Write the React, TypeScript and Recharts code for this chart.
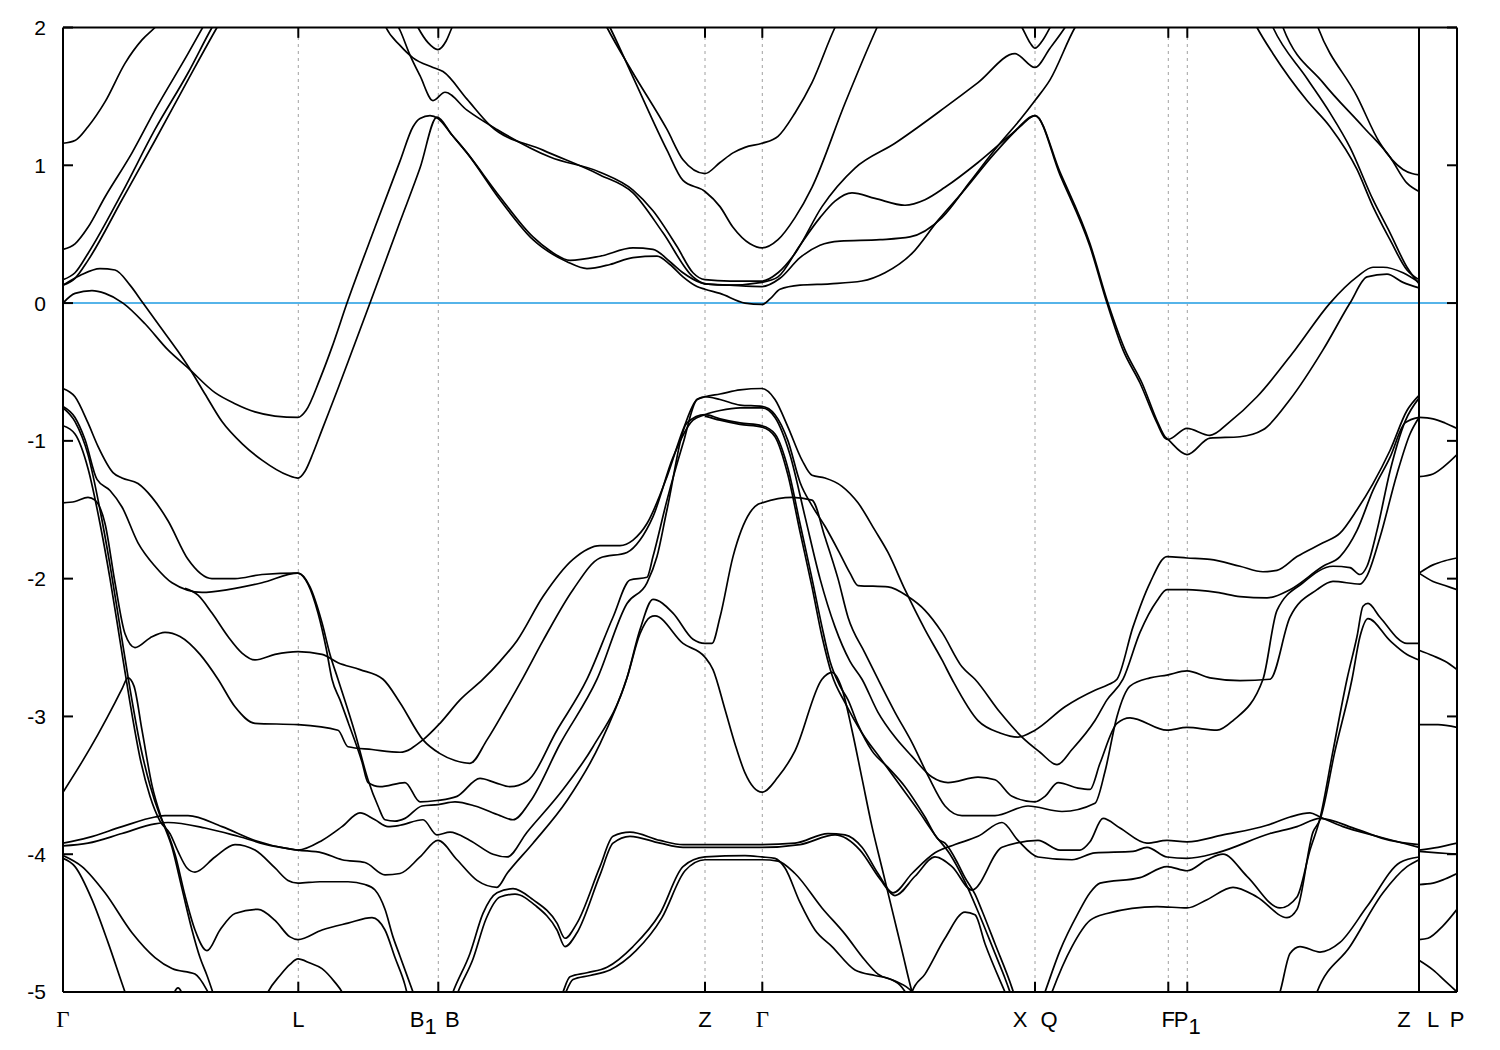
import React from 'react';
import { LineChart, Line, XAxis, YAxis, ReferenceLine } from 'recharts';

type P = [number, number];

// high-symmetry points along the k-path and their labels
const kTicks = [0, 2.353, 3.753, 6.42, 6.993, 9.72, 11.053, 11.243, 13.56, 13.94];
const kLabels = ['Γ', 'L', 'B_1|B', 'Z', 'Γ', 'X|Q', 'F', 'P_1', 'Z|L', 'P'];
const dashedAt = [2.353, 3.753, 6.42, 6.993, 9.72, 11.053, 11.243];
const eTicks = [-5, -4, -3, -2, -1, 0, 1, 2];

// ---- conduction bands ----
const bandA: P[] = [[0,1.16],[0.12,1.18],[0.25,1.28],[0.42,1.46],[0.62,1.74],[0.79,1.91],[0.92,2.0],[1.07,2.12]];
const bandB: P[] = [[0,0.39],[0.12,0.43],[0.25,0.55],[0.42,0.77],[0.69,1.09],[0.92,1.40],[1.25,1.81],[1.42,2.03]];
const bandC: P[] = [[0,0.17],[0.12,0.22],[0.25,0.36],[0.59,0.80],[0.92,1.26],[1.25,1.67],[1.49,2.0],[1.57,2.1]];
const bandD: P[] = [[0,0.13],[0.12,0.18],[0.25,0.31],[0.59,0.75],[0.92,1.18],[1.25,1.62],[1.54,2.0],[1.62,2.1]];
const bandE: P[] = [[0,0.13],[0.17,0.2],[0.37,0.25],[0.52,0.24],[0.67,0.13],[0.8,0],[0.97,-0.17],[1.15,-0.35],[1.27,-0.48],[1.42,-0.66],[1.59,-0.86],[1.79,-1.02],[1.99,-1.14],[2.25,-1.25],[2.35,-1.27],[2.42,-1.22],[2.5,-1.09],[2.59,-0.92],[2.75,-0.62],[2.9,-0.33],[3.07,0],[3.37,0.59],[3.57,0.98],[3.74,1.35],[3.89,1.22],[4.04,1.09],[4.37,0.75],[4.7,0.46],[5.04,0.30],[5.24,0.25],[5.47,0.28],[5.7,0.33],[5.94,0.34],[6.07,0.28],[6.2,0.19],[6.34,0.12],[6.42,0.10],[6.57,0.07],[6.82,0.0],[6.99,-0.01],[7.07,0.03],[7.17,0.10],[7.37,0.13],[7.67,0.14],[7.99,0.16],[8.22,0.22],[8.49,0.36],[8.75,0.60],[8.99,0.80],[9.32,1.09],[9.57,1.28],[9.72,1.36],[9.97,0.95],[10.27,0.43],[10.45,0.0],[10.62,-0.34],[10.79,-0.58],[10.95,-0.87],[11.02,-0.97],[11.05,-0.99],[11.24,-1.10],[11.47,-0.98],[11.77,-0.97],[12.0,-0.92],[12.27,-0.70],[12.6,-0.34],[12.87,0.0],[13.04,0.19],[13.24,0.21],[13.4,0.15],[13.56,0.11]];
const bandF: P[] = [[0,0.0],[0.12,0.07],[0.29,0.09],[0.42,0.07],[0.6,0.0],[0.82,-0.15],[1.05,-0.34],[1.25,-0.47],[1.52,-0.65],[1.72,-0.73],[1.92,-0.79],[2.12,-0.82],[2.35,-0.83],[2.43,-0.78],[2.57,-0.55],[2.69,-0.32],[2.84,0.0],[3.12,0.55],[3.37,1.03],[3.5,1.28],[3.57,1.34],[3.67,1.36],[3.75,1.34],[3.89,1.22],[4.04,1.09],[4.37,0.77],[4.7,0.48],[4.87,0.38],[5.07,0.31],[5.37,0.34],[5.7,0.40],[5.9,0.39],[6.07,0.30],[6.2,0.22],[6.37,0.15],[6.42,0.14],[6.67,0.13],[6.99,0.15],[7.15,0.19],[7.37,0.42],[7.57,0.62],[7.72,0.74],[7.89,0.80],[8.12,0.76],[8.42,0.71],[8.62,0.75],[8.82,0.84],[9.15,1.02],[9.49,1.23],[9.72,1.36],[9.97,0.93],[10.27,0.41],[10.44,0.0],[10.6,-0.34],[10.77,-0.58],[10.94,-0.87],[11.02,-0.98],[11.05,-0.99],[11.24,-0.91],[11.47,-0.96],[11.67,-0.86],[11.94,-0.68],[12.32,-0.34],[12.67,0.0],[12.94,0.19],[13.1,0.26],[13.2,0.26],[13.4,0.22],[13.56,0.15]];
const bandM1: P[] = [[3.32,2.05],[3.37,1.98],[3.47,1.8],[3.57,1.65],[3.7,1.47],[3.82,1.53],[4.04,1.40],[4.34,1.26],[4.87,1.06],[5.37,0.95],[5.7,0.82],[5.9,0.67],[6.14,0.41],[6.3,0.22],[6.42,0.17],[6.67,0.16],[6.99,0.16],[7.15,0.22],[7.32,0.36],[7.59,0.70],[7.92,0.98],[8.32,1.16],[8.82,1.42],[9.15,1.60],[9.52,1.81],[9.72,1.71],[9.87,1.85],[10.02,2.0],[10.09,2.08]];
const bandM2: P[] = [[3.2,2.05],[3.23,2.0],[3.37,1.87],[3.5,1.78],[3.7,1.71],[3.8,1.68],[4.04,1.48],[4.27,1.29],[4.8,1.11],[5.37,0.93],[5.7,0.80],[6.0,0.51],[6.3,0.19],[6.42,0.14],[6.67,0.13],[6.99,0.12],[7.17,0.18],[7.37,0.33],[7.57,0.42],[7.77,0.45],[8.17,0.46],[8.47,0.48],[8.79,0.62],[9.07,0.88],[9.37,1.16],[9.57,1.33],[9.72,1.47],[9.87,1.62],[10.12,2.0],[10.17,2.06]];
const bandVB: P[] = [[3.47,2.12],[3.55,2.0],[3.65,1.89],[3.75,1.84],[3.83,1.90],[3.89,2.0],[3.97,2.12]];
const bandVX: P[] = [[9.49,2.12],[9.59,2.0],[9.67,1.89],[9.72,1.85],[9.79,1.90],[9.87,2.0],[9.95,2.12]];
const bandT1: P[] = [[5.37,2.1],[5.44,2.0],[5.7,1.67],[6.04,1.26],[6.2,1.04],[6.42,0.94],[6.57,1.02],[6.7,1.09],[6.82,1.13],[6.99,1.16],[7.15,1.21],[7.32,1.38],[7.49,1.60],[7.72,2.0],[7.79,2.1]];
const bandT2: P[] = [[5.4,2.1],[5.47,2.0],[5.7,1.64],[6.04,1.11],[6.2,0.89],[6.42,0.81],[6.57,0.70],[6.7,0.55],[6.87,0.43],[6.99,0.40],[7.15,0.46],[7.32,0.62],[7.49,0.84],[7.82,1.45],[8.14,2.0],[8.19,2.08]];
const bandK1: P[] = [[11.87,2.1],[11.94,2.0],[12.1,1.81],[12.44,1.47],[12.67,1.28],[12.94,0.97],[13.1,0.70],[13.27,0.46],[13.44,0.24],[13.56,0.17]];
const bandK2: P[] = [[12.04,2.1],[12.1,2.0],[12.44,1.63],[12.67,1.38],[12.87,1.13],[13.1,0.75],[13.27,0.51],[13.44,0.26],[13.56,0.14]];
const bandK3: P[] = [[12.15,2.1],[12.2,2.0],[12.6,1.60],[13.0,1.28],[13.27,1.06],[13.44,0.87],[13.56,0.81]];
const bandK4: P[] = [[12.5,2.1],[12.55,2.0],[12.94,1.50],[13.17,1.16],[13.4,0.97],[13.49,0.94],[13.56,0.93]];

// ---- valence bands ----
const bandV1: P[] = [[0,-0.62],[0.12,-0.68],[0.25,-0.87],[0.35,-1.04],[0.5,-1.23],[0.59,-1.27],[0.75,-1.31],[0.89,-1.41],[1.05,-1.58],[1.25,-1.86],[1.49,-2.0],[1.72,-2.0],[1.99,-1.97],[2.35,-1.96],[2.45,-2.04],[2.55,-2.25],[2.63,-2.5],[2.69,-2.73],[2.77,-2.88],[2.85,-3.04],[2.99,-3.33],[3.05,-3.48],[3.17,-3.51],[3.42,-3.48],[3.57,-3.62],[3.74,-3.61],[3.94,-3.58],[4.17,-3.45],[4.32,-3.48],[4.47,-3.51],[4.64,-3.47],[4.94,-3.10],[5.24,-2.73],[5.5,-2.28],[5.67,-2.01],[5.84,-1.99],[5.9,-1.84],[6.04,-1.43],[6.2,-1.02],[6.34,-0.70],[6.42,-0.68],[6.57,-0.70],[6.77,-0.74],[6.99,-0.75],[7.12,-0.81],[7.25,-1.0],[7.37,-1.3],[7.49,-1.47],[7.62,-1.62],[7.77,-1.82],[7.87,-1.96],[7.95,-2.05],[8.25,-2.06],[8.45,-2.13],[8.62,-2.23],[8.79,-2.39],[8.99,-2.64],[9.12,-2.73],[9.37,-2.97],[9.59,-3.15],[9.77,-3.26],[9.94,-3.35],[10.09,-3.24],[10.32,-3.03],[10.44,-2.88],[10.6,-2.73],[10.77,-2.39],[10.94,-2.16],[11.04,-2.08],[11.24,-2.08],[11.54,-2.10],[11.77,-2.13],[12.04,-2.14],[12.27,-2.08],[12.6,-1.91],[12.77,-1.84],[12.94,-1.65],[13.1,-1.36],[13.27,-1.12],[13.42,-0.87],[13.56,-0.83]];
const bandV2: P[] = [[0,-0.75],[0.12,-0.83],[0.22,-0.99],[0.34,-1.28],[0.47,-1.36],[0.59,-1.48],[0.75,-1.74],[0.92,-1.91],[1.09,-2.03],[1.39,-2.10],[1.65,-2.08],[1.99,-2.03],[2.35,-1.96],[2.47,-2.06],[2.59,-2.32],[2.67,-2.55],[2.75,-2.73],[2.92,-3.12],[3.05,-3.46],[3.15,-3.65],[3.22,-3.75],[3.32,-3.76],[3.42,-3.74],[3.59,-3.65],[3.75,-3.64],[3.92,-3.62],[4.12,-3.65],[4.37,-3.72],[4.5,-3.75],[4.67,-3.62],[4.97,-3.2],[5.34,-2.73],[5.64,-2.18],[5.84,-2.03],[5.94,-1.84],[6.04,-1.50],[6.24,-0.87],[6.42,-0.81],[6.57,-0.84],[6.77,-0.87],[6.99,-0.89],[7.12,-0.95],[7.25,-1.2],[7.37,-1.6],[7.49,-2.0],[7.59,-2.35],[7.67,-2.6],[7.77,-2.78],[7.85,-2.88],[7.95,-3.06],[8.09,-3.25],[8.25,-3.37],[8.42,-3.51],[8.62,-3.73],[8.75,-3.89],[8.82,-3.92],[8.95,-4.07],[9.02,-4.17],[9.12,-4.29],[9.19,-4.41],[9.32,-4.65],[9.49,-4.97],[9.53,-5.06]];
const bandL1: P[] = [[0,-1.45],[0.12,-1.44],[0.25,-1.41],[0.32,-1.43],[0.42,-1.60],[0.52,-2.03],[0.62,-2.40],[0.72,-2.50],[0.87,-2.43],[1.02,-2.39],[1.17,-2.42],[1.37,-2.55],[1.55,-2.73],[1.72,-2.93],[1.92,-3.05],[2.35,-3.06],[2.75,-3.10],[2.85,-3.22],[3.09,-3.24],[3.37,-3.26],[3.6,-3.17],[3.77,-3.05],[3.97,-2.88],[4.2,-2.73],[4.37,-2.60],[4.54,-2.45],[4.8,-2.13],[5.1,-1.86],[5.37,-1.76],[5.57,-1.76],[5.7,-1.72],[5.84,-1.60],[6.04,-1.26],[6.2,-0.92],[6.34,-0.70],[6.42,-0.68],[6.57,-0.66],[6.77,-0.63],[6.99,-0.62],[7.12,-0.70],[7.25,-0.90],[7.39,-1.14],[7.49,-1.25],[7.62,-1.27],[7.79,-1.33],[7.95,-1.45],[8.12,-1.65],[8.25,-1.81],[8.42,-2.08],[8.62,-2.37],[8.79,-2.59],[8.89,-2.73],[9.15,-3.03],[9.37,-3.12],[9.55,-3.15],[9.72,-3.10],[10.02,-2.93],[10.32,-2.81],[10.45,-2.77],[10.54,-2.73],[10.7,-2.35],[10.87,-2.03],[11.04,-1.84],[11.24,-1.85],[11.47,-1.86],[11.77,-1.91],[12.0,-1.95],[12.14,-1.94],[12.34,-1.84],[12.6,-1.74],[12.77,-1.67],[12.94,-1.50],[13.1,-1.31],[13.27,-1.07],[13.44,-0.78],[13.56,-0.67]];
const bandL2: P[] = [[1.22,-2.07],[1.35,-2.12],[1.49,-2.25],[1.65,-2.42],[1.79,-2.54],[1.92,-2.59],[2.12,-2.55],[2.35,-2.53],[2.59,-2.55],[2.75,-2.61],[2.97,-2.66],[3.2,-2.73],[3.37,-2.90],[3.6,-3.17],[3.77,-3.27],[3.92,-3.32],[4.07,-3.34],[4.24,-3.17],[4.42,-2.95],[4.6,-2.72],[4.8,-2.45],[5.1,-2.08],[5.37,-1.85],[5.64,-1.81],[5.77,-1.72],[5.9,-1.55],[6.1,-1.12],[6.3,-0.85],[6.42,-0.81],[6.57,-0.78],[6.77,-0.76],[6.99,-0.76],[7.12,-0.83],[7.27,-1.1],[7.42,-1.55],[7.57,-2.0],[7.72,-2.35],[7.87,-2.6],[7.99,-2.73],[8.15,-2.97],[8.32,-3.15],[8.49,-3.29],[8.69,-3.44],[8.85,-3.48],[9.15,-3.44],[9.32,-3.46],[9.49,-3.58],[9.72,-3.62],[9.82,-3.58],[9.95,-3.48],[10.15,-3.52],[10.27,-3.53],[10.37,-3.34],[10.54,-3.05],[10.67,-3.01],[11.04,-3.10],[11.24,-3.08],[11.54,-3.10],[11.7,-3.03],[12.0,-2.73],[12.14,-2.23],[12.4,-2.03],[12.7,-1.91],[12.87,-1.92],[12.97,-1.97],[13.04,-1.91],[13.14,-1.65],[13.27,-1.22],[13.42,-0.86],[13.56,-0.69]];
const bandU1: P[] = [[0,-3.92],[0.25,-3.88],[0.59,-3.80],[0.92,-3.73],[1.02,-3.72],[1.25,-3.72],[1.59,-3.80],[1.92,-3.90],[2.25,-3.96],[2.35,-3.97],[2.59,-3.90],[2.79,-3.80],[2.97,-3.70],[3.12,-3.75],[3.25,-3.80],[3.37,-3.79],[3.6,-3.75],[3.74,-3.86],[3.87,-3.84],[4.07,-3.90],[4.3,-4.00],[4.44,-4.02],[4.64,-3.84],[5.0,-3.53],[5.3,-3.22],[5.64,-2.72],[5.77,-2.37],[5.9,-2.15],[6.1,-2.25],[6.3,-2.44],[6.42,-2.47],[6.49,-2.47],[6.57,-2.28],[6.7,-1.84],[6.87,-1.52],[6.95,-1.46],[6.99,-1.45],[7.29,-1.41],[7.49,-1.43],[7.62,-1.70],[7.75,-2.0],[7.85,-2.28],[8.02,-2.54],[8.15,-2.73],[8.32,-2.97],[8.49,-3.19],[8.65,-3.43],[8.82,-3.65],[8.99,-3.72],[9.32,-3.72],[9.65,-3.65],[9.99,-3.69],[10.32,-3.63],[10.42,-3.40],[10.54,-3.0],[10.67,-2.78],[10.87,-2.72],[11.04,-2.70],[11.24,-2.67],[11.47,-2.72],[11.77,-2.74],[12.07,-2.73],[12.27,-2.28],[12.54,-2.08],[12.7,-2.02],[12.97,-2.04],[13.04,-1.98],[13.17,-1.70],[13.34,-1.24],[13.47,-0.95],[13.56,-0.83]];
const bandU2: P[] = [[0,-3.94],[0.25,-3.92],[0.59,-3.85],[0.92,-3.78],[1.05,-3.77],[1.42,-3.81],[1.75,-3.87],[2.09,-3.94],[2.35,-3.97],[2.59,-3.99],[2.79,-4.04],[3.02,-4.06],[3.22,-4.15],[3.37,-4.14],[3.57,-4.02],[3.75,-3.90],[3.94,-4.04],[4.14,-4.19],[4.34,-4.24],[4.44,-4.14],[4.7,-3.92],[5.04,-3.61],[5.37,-3.20],[5.64,-2.72],[5.77,-2.40],[5.87,-2.28],[5.92,-2.27],[6.2,-2.47],[6.42,-2.57],[6.5,-2.66],[6.62,-2.95],[6.72,-3.2],[6.82,-3.41],[6.99,-3.55],[7.15,-3.44],[7.32,-3.25],[7.59,-2.73],[7.69,-2.68],[7.79,-2.80],[7.89,-3.1],[7.99,-3.45],[8.09,-3.8],[8.19,-4.1],[8.29,-4.4],[8.39,-4.7],[8.49,-5.0],[8.53,-5.1]];
const bandV3: P[] = [[0,-0.76],[0.12,-0.86],[0.25,-1.10],[0.37,-1.50],[0.47,-1.90],[0.57,-2.35],[0.67,-2.80],[0.77,-3.20],[0.87,-3.50],[0.97,-3.72],[1.05,-3.85],[1.12,-4.0],[1.22,-4.3],[1.32,-4.55],[1.44,-4.70],[1.57,-4.55],[1.72,-4.43],[1.95,-4.40],[2.12,-4.48],[2.27,-4.60],[2.35,-4.62],[2.59,-4.55],[2.85,-4.50],[3.09,-4.46],[3.22,-4.55],[3.32,-4.75],[3.42,-4.95],[3.47,-5.1]];
const bandV4: P[] = [[0,-0.89],[0.12,-0.95],[0.25,-1.2],[0.37,-1.6],[0.47,-2.0],[0.57,-2.45],[0.67,-2.9],[0.77,-3.3],[0.87,-3.58],[0.97,-3.76],[1.07,-3.85],[1.15,-3.98],[1.24,-4.10],[1.32,-4.13],[1.52,-4.02],[1.72,-3.93],[1.92,-3.97],[2.12,-4.1],[2.25,-4.19],[2.35,-4.21],[2.57,-4.20],[2.85,-4.20],[3.02,-4.22],[3.12,-4.26],[3.22,-4.4],[3.3,-4.6],[3.37,-4.74],[3.5,-5.0],[3.55,-5.1]];
const bandQ1: P[] = [[0,-3.55],[0.19,-3.33],[0.35,-3.13],[0.52,-2.90],[0.59,-2.80],[0.65,-2.72],[0.71,-2.78],[0.79,-3.1],[0.89,-3.5],[0.99,-3.75],[1.09,-3.95],[1.19,-4.25],[1.29,-4.55],[1.37,-4.75],[1.44,-4.88],[1.52,-5.05]];
const bandG4a: P[] = [[0,-4.01],[0.19,-4.09],[0.42,-4.28],[0.69,-4.57],[0.92,-4.75],[1.09,-4.83],[1.32,-4.87],[1.45,-5.0],[1.52,-5.1]];
const bandG4b: P[] = [[0,-4.03],[0.12,-4.09],[0.29,-4.33],[0.45,-4.64],[0.62,-5.0],[0.67,-5.1]];
const bandLcap: P[] = [[1.99,-5.1],[2.05,-5.0],[2.17,-4.88],[2.27,-4.8],[2.35,-4.76],[2.47,-4.79],[2.59,-4.83],[2.72,-4.93],[2.79,-5.0],[2.85,-5.1]];
const bandBump: P[] = [[1.07,-5.1],[1.15,-4.97],[1.23,-5.1]];
const bandD1a: P[] = [[3.85,-5.1],[3.9,-5.0],[4.07,-4.72],[4.2,-4.43],[4.34,-4.28],[4.5,-4.25],[4.7,-4.33],[4.94,-4.50],[5.02,-4.61],[5.14,-4.50],[5.37,-4.09],[5.5,-3.87],[5.67,-3.84],[5.97,-3.90],[6.2,-3.93],[6.42,-3.93],[6.99,-3.93],[7.32,-3.92],[7.65,-3.85],[7.82,-3.86],[7.99,-3.95],[8.15,-4.14],[8.3,-4.28],[8.49,-4.14],[8.72,-3.99],[8.92,-3.93],[9.15,-3.87],[9.39,-3.77],[9.55,-3.90],[9.75,-4.02],[10.09,-4.04],[10.32,-3.99],[10.7,-3.98],[10.84,-3.95],[11.04,-4.02],[11.24,-4.03],[11.54,-3.99],[12.07,-3.85],[12.34,-3.80],[12.57,-3.74],[12.94,-3.82],[13.27,-3.90],[13.56,-3.93]];
const bandD1b: P[] = [[3.9,-5.1],[3.95,-5.0],[4.1,-4.76],[4.23,-4.47],[4.37,-4.31],[4.52,-4.29],[4.72,-4.37],[4.94,-4.55],[5.02,-4.67],[5.14,-4.57],[5.37,-4.15],[5.5,-3.92],[5.67,-3.87],[5.97,-3.92],[6.2,-3.95],[6.42,-3.95],[6.99,-3.95],[7.37,-3.93],[7.72,-3.86],[7.97,-3.97],[8.17,-4.18],[8.32,-4.30],[8.52,-4.16],[8.72,-4.02],[8.89,-4.09],[9.09,-4.26],[9.39,-3.95],[9.75,-3.90],[9.97,-3.97],[10.17,-3.97],[10.27,-3.91],[10.4,-3.74],[10.57,-3.81],[10.84,-3.92],[11.04,-3.90],[11.24,-3.91],[11.6,-3.86],[12.04,-3.79],[12.27,-3.73],[12.47,-3.70],[12.57,-3.73],[12.8,-3.80],[13.14,-3.87],[13.56,-3.95]];
const bandD2a: P[] = [[4.95,-5.1],[5.0,-5.0],[5.07,-4.89],[5.24,-4.86],[5.44,-4.82],[5.7,-4.67],[5.97,-4.43],[6.2,-4.09],[6.42,-4.02],[6.82,-4.01],[6.99,-4.02],[7.12,-4.03],[7.22,-4.1],[7.37,-4.35],[7.52,-4.55],[7.69,-4.67],[7.92,-4.84],[8.12,-4.88],[8.25,-4.90],[8.37,-4.95],[8.47,-5.05]];
const bandD2b: P[] = [[4.98,-5.1],[5.03,-5.0],[5.1,-4.91],[5.27,-4.88],[5.47,-4.84],[5.73,-4.70],[5.99,-4.46],[6.22,-4.12],[6.42,-4.04],[6.99,-4.04],[7.15,-4.05],[7.32,-4.14],[7.59,-4.39],[7.82,-4.58],[8.02,-4.77],[8.15,-4.87],[8.32,-4.92],[8.49,-5.0],[8.53,-5.05]];
const bandPk: P[] = [[8.45,-5.1],[8.49,-5.0],[8.62,-4.87],[8.82,-4.61],[9.02,-4.42],[9.12,-4.44],[9.22,-4.65],[9.42,-5.0],[9.45,-5.05]];
const bandSX2: P[] = [[6.42,-0.82],[6.57,-0.85],[6.77,-0.88],[6.99,-0.90],[7.12,-0.97],[7.25,-1.25],[7.37,-1.66],[7.49,-2.06],[7.59,-2.42],[7.69,-2.70],[7.82,-2.90],[7.99,-3.12],[8.17,-3.30],[8.37,-3.50],[8.55,-3.68],[8.72,-3.86],[8.87,-4.0],[9.02,-4.2],[9.17,-4.45],[9.32,-4.72],[9.42,-4.9],[9.47,-5.0],[9.51,-5.08]];
const bandXF3: P[] = [[9.77,-5.1],[9.82,-5.0],[9.97,-4.7],[10.15,-4.43],[10.27,-4.28],[10.37,-4.21],[10.77,-4.17],[11.04,-4.09],[11.24,-4.12],[11.44,-4.04],[11.6,-4.00],[11.84,-4.16],[12.17,-4.39],[12.34,-4.31],[12.47,-3.97],[12.57,-3.74],[12.7,-3.25],[12.84,-2.73],[12.94,-2.42],[13.0,-2.20],[13.05,-2.18],[13.17,-2.28],[13.44,-2.47],[13.56,-2.47]];
const bandXF4: P[] = [[9.84,-5.1],[9.89,-5.0],[10.09,-4.67],[10.27,-4.48],[10.44,-4.43],[10.94,-4.38],[11.24,-4.39],[11.44,-4.33],[11.7,-4.24],[11.94,-4.31],[12.24,-4.46],[12.34,-4.40],[12.5,-3.84],[12.57,-3.75],[12.72,-3.25],[12.89,-2.73],[12.97,-2.42],[13.05,-2.29],[13.27,-2.45],[13.44,-2.55],[13.56,-2.59]];
const bandXF5: P[] = [[12.12,-5.1],[12.17,-5.0],[12.27,-4.72],[12.37,-4.67],[12.57,-4.71],[12.77,-4.64],[13.04,-4.38],[13.37,-4.06],[13.56,-4.02]];
const bandXF6: P[] = [[12.49,-5.1],[12.54,-5.0],[12.87,-4.67],[13.2,-4.28],[13.44,-4.09],[13.56,-4.04]];

// ---- L -> P panel ----
const lpA: P[] = [[13.56,-0.83],[13.7,-0.84],[13.82,-0.87],[13.94,-0.91]];
const lpB: P[] = [[13.56,-1.26],[13.7,-1.24],[13.82,-1.18],[13.94,-1.10]];
const lpC: P[] = [[13.56,-1.96],[13.7,-1.90],[13.82,-1.87],[13.94,-1.85]];
const lpD: P[] = [[13.56,-1.96],[13.7,-2.02],[13.82,-2.05],[13.94,-2.08]];
const lpE: P[] = [[13.56,-2.52],[13.7,-2.56],[13.82,-2.60],[13.94,-2.66]];
const lpF: P[] = [[13.56,-3.06],[13.75,-3.06],[13.94,-3.08]];
const lpG: P[] = [[13.56,-3.97],[13.75,-3.95],[13.94,-3.92]];
const lpH: P[] = [[13.56,-3.98],[13.75,-3.99],[13.94,-4.0]];
const lpI: P[] = [[13.56,-4.22],[13.7,-4.21],[13.82,-4.18],[13.94,-4.14]];
const lpJ: P[] = [[13.56,-4.62],[13.65,-4.61],[13.8,-4.52],[13.94,-4.40]];
const lpK: P[] = [[13.56,-4.77],[13.7,-4.84],[13.82,-4.92],[13.94,-5.0]];

const allBands: P[][] = [
  bandA, bandB, bandC, bandD, bandE, bandF, bandM1, bandM2, bandVB, bandVX, bandT1, bandT2,
  bandK1, bandK2, bandK3, bandK4,
  bandV1, bandV2, bandL1, bandL2, bandU1, bandU2, bandV3, bandV4, bandQ1, bandG4a, bandG4b,
  bandLcap, bandBump, bandD1a, bandD1b, bandD2a, bandD2b, bandPk, bandSX2, bandXF3, bandXF4,
  bandXF5, bandXF6,
  lpA, lpB, lpC, lpD, lpE, lpF, lpG, lpH, lpI, lpJ, lpK,
];

const toPts = (b: P[]) => b.map(([k, e]) => ({ k, e }));

const SANS = 'Liberation Sans, Arial, sans-serif';
const SERIF = 'Liberation Serif, Times New Roman, serif';

const XTick = (props: any) => {
  const { x, y, payload } = props;
  const idx = kTicks.findIndex((t) => Math.abs(t - payload.value) < 1e-6);
  const label = idx >= 0 ? kLabels[idx] : '';
  const parts = label.split('|');
  const offs = parts.length === 2 ? [-15, 14] : [0];
  return (
    <g>
      {parts.map((p, i) => {
        const [main, sub] = p.split('_');
        const serif = main === 'Γ';
        return (
          <text
            key={i}
            x={x + offs[i]}
            y={y + 35}
            textAnchor="middle"
            fontSize={serif ? 23 : 22}
            fontFamily={serif ? SERIF : SANS}
            fill="#000"
          >
            {main}
            {sub ? <tspan dy={7}>{sub}</tspan> : null}
          </text>
        );
      })}
    </g>
  );
};

const K_MAX = 13.94;
const TICK_K = 0.1; // inward tick length along k
const TICK_E = 0.075; // inward tick length along E

export default function App() {
  return (
    <LineChart width={1484} height={1034} margin={{ top: 19.5, right: 35, left: 0, bottom: 0 }}>
      <XAxis
        type="number"
        dataKey="k"
        domain={[0, K_MAX]}
        ticks={kTicks}
        interval={0}
        allowDataOverflow
        axisLine={false}
        tickLine={false}
        tickSize={0}
        tickMargin={0}
        height={50}
        tick={<XTick />}
      />
      <YAxis
        type="number"
        dataKey="e"
        domain={[-5, 2]}
        ticks={eTicks}
        interval={0}
        allowDataOverflow
        axisLine={false}
        tickLine={false}
        tickSize={0}
        tickMargin={17}
        width={55}
        tick={{ fontSize: 21, fill: '#000', fontFamily: SANS }}
      />
      {dashedAt.map((k) => (
        <ReferenceLine key={'d' + k} x={k} stroke="#a0a0a0" strokeWidth={1} strokeDasharray="3 4" />
      ))}
      <ReferenceLine y={0} stroke="#56B4E9" strokeWidth={2} />
      {allBands.map((b, i) => (
        <Line
          key={'b' + i}
          data={toPts(b)}
          dataKey="e"
          type="monotone"
          stroke="#000"
          strokeWidth={1.7}
          dot={false}
          activeDot={false}
          isAnimationActive={false}
        />
      ))}
      <ReferenceLine x={13.56} stroke="#000" strokeWidth={2} />
      <ReferenceLine x={0} stroke="#000" strokeWidth={2} />
      <ReferenceLine x={K_MAX} stroke="#000" strokeWidth={2} />
      <ReferenceLine y={-5} stroke="#000" strokeWidth={2} />
      <ReferenceLine y={2} stroke="#000" strokeWidth={2} />
      {eTicks.map((e) => (
        <ReferenceLine key={'yl' + e} segment={[{ x: 0, y: e }, { x: TICK_K, y: e }]} stroke="#000" strokeWidth={2} />
      ))}
      {eTicks.map((e) => (
        <ReferenceLine key={'yr' + e} segment={[{ x: K_MAX - TICK_K, y: e }, { x: K_MAX, y: e }]} stroke="#000" strokeWidth={2} />
      ))}
      {kTicks.slice(1, -1).map((k) => (
        <ReferenceLine key={'xb' + k} segment={[{ x: k, y: -5 }, { x: k, y: -5 + TICK_E }]} stroke="#000" strokeWidth={2} />
      ))}
      {kTicks.slice(1, -1).map((k) => (
        <ReferenceLine key={'xt' + k} segment={[{ x: k, y: 2 }, { x: k, y: 2 - TICK_E }]} stroke="#000" strokeWidth={2} />
      ))}
    </LineChart>
  );
}
